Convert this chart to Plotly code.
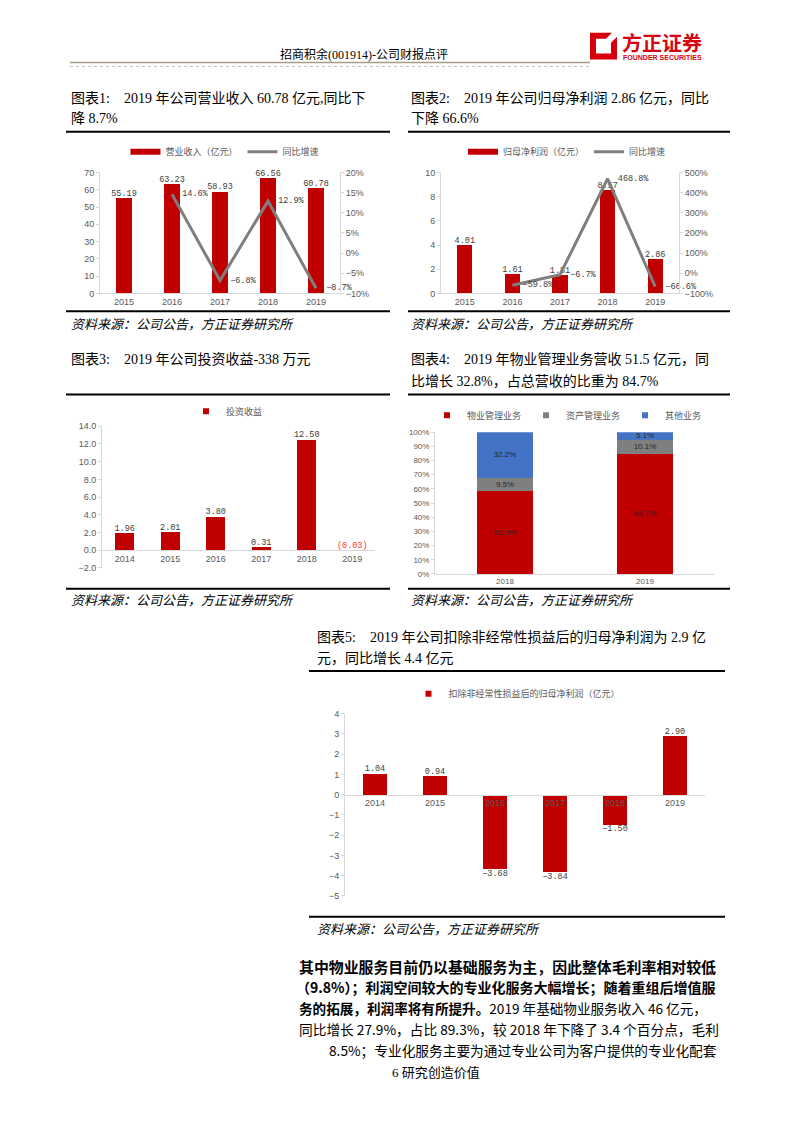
import plotly.graph_objects as go

W, H = 793, 1122
def X(p): return p / W
def Y(p): return 1 - p / H

# ---------------- data ----------------
years_rev = ['2015', '2016', '2017', '2018', '2019']
revenue = [55.19, 63.23, 58.93, 66.56, 60.78]
rev_growth_years = ['2016', '2017', '2018', '2019']
rev_growth = [14.6, -6.8, 12.9, -8.7]

years_np = ['2015', '2016', '2017', '2018', '2019']
net_profit = [4.01, 1.61, 1.51, 8.57, 2.86]
np_growth_years = ['2016', '2017', '2018', '2019']
np_growth = [-59.8, -6.7, 468.8, -66.6]

years_inv = ['2014', '2015', '2016', '2017', '2018', '2019']
invest_income = [1.96, 2.01, 3.80, 0.31, 12.50, -0.03]

years_seg = ['2018', '2019']
seg_names = ['物业管理业务', '资产管理业务', '其他业务']
seg_property = [58.3, 84.7]
seg_asset = [9.5, 10.1]
seg_other = [32.2, 5.1]

years_ded = ['2014', '2015', '2016', '2017', '2018', '2019']
deducted_profit = [1.04, 0.94, -3.68, -3.84, -1.50, 2.90]

# ---------------- styles ----------------
RED = '#C00000'
GRAY = '#7F7F7F'
BLUE = '#4472C4'
AXC = '#D9D9D9'
TICKF = dict(family='Liberation Sans, Arial, sans-serif', size=9, color='#595959')
LABF = dict(family='Liberation Mono, DejaVu Sans Mono, monospace', size=8.5, color='#404040')
LEGF = dict(family='Noto Sans CJK SC', size=9, color='#595959')
SERIF = 'Liberation Serif, Noto Sans CJK SC'
NB = '\u00a0'


def pct(v):
    return f"{v:.1f}%".replace('-', '\u2212')


def num(v):
    return f"{v:.2f}".replace('-', '\u2212')


def legend_rect(name, color, legend, xa='x', ya='y'):
    # legend key drawn as a thick short bar, like the source chart
    return go.Scatter(x=[None], y=[None], mode='lines', line=dict(color=color, width=6),
                      name=name, legend=legend, xaxis=xa, yaxis=ya, hoverinfo='skip')


def legend_square(name, color, legend, xa, ya):
    return go.Scatter(x=[None], y=[None], mode='markers',
                      marker=dict(symbol='square', size=6, color=color),
                      name=name, legend=legend, xaxis=xa, yaxis=ya, hoverinfo='skip')


traces = []
# chart 1
traces.append(go.Bar(x=years_rev, y=revenue, marker=dict(color=RED, line=dict(width=0)), width=0.32,
                     showlegend=False, xaxis='x', yaxis='y', hoverinfo='skip'))
traces.append(go.Scatter(x=years_rev, y=revenue, mode='text', text=[num(v) for v in revenue],
                         textposition='top center', textfont=LABF, showlegend=False,
                         xaxis='x', yaxis='y', cliponaxis=False, hoverinfo='skip'))
traces.append(legend_rect('营业收入（亿元）', RED, 'legend', 'x', 'y'))
traces.append(go.Scatter(x=rev_growth_years, y=[g / 100 for g in rev_growth], mode='lines',
                         line=dict(color=GRAY, width=3), name='同比增速', legend='legend',
                         xaxis='x', yaxis='y2', hoverinfo='skip'))
traces.append(go.Scatter(x=rev_growth_years, y=[g / 100 for g in rev_growth], mode='text',
                         text=[NB * 2 + pct(g) for g in rev_growth], textposition='middle right',
                         textfont=LABF, showlegend=False, xaxis='x', yaxis='y2',
                         cliponaxis=False, hoverinfo='skip'))
# chart 2
traces.append(go.Bar(x=years_np, y=net_profit, marker=dict(color=RED, line=dict(width=0)), width=0.32,
                     showlegend=False, xaxis='x2', yaxis='y3', hoverinfo='skip'))
traces.append(go.Scatter(x=years_np, y=net_profit, mode='text', text=[num(v) for v in net_profit],
                         textposition='top center', textfont=LABF, showlegend=False,
                         xaxis='x2', yaxis='y3', cliponaxis=False, hoverinfo='skip'))
traces.append(legend_rect('归母净利润（亿元）', RED, 'legend2', 'x2', 'y3'))
traces.append(go.Scatter(x=np_growth_years, y=[g / 100 for g in np_growth], mode='lines',
                         line=dict(color=GRAY, width=3), name='同比增速', legend='legend2',
                         xaxis='x2', yaxis='y4', hoverinfo='skip'))
traces.append(go.Scatter(x=np_growth_years, y=[g / 100 for g in np_growth], mode='text',
                         text=[NB * 2 + pct(g) for g in np_growth],
                         textposition='middle right',
                         textfont=LABF, showlegend=False, xaxis='x2', yaxis='y4',
                         cliponaxis=False, hoverinfo='skip'))
# chart 3
traces.append(go.Bar(x=years_inv, y=invest_income, marker=dict(color=RED, line=dict(width=0)), width=0.41,
                     showlegend=False, xaxis='x3', yaxis='y5', hoverinfo='skip'))
traces.append(legend_square('投资收益', RED, 'legend3', 'x3', 'y5'))
traces.append(go.Scatter(x=years_inv, y=[max(v, 0) for v in invest_income], mode='text',
                         text=[f"({abs(v):.2f})" if v < 0 else f"{v:.2f}" for v in invest_income],
                         textposition='top center',
                         textfont=dict(family=LABF['family'], size=LABF['size'],
                                       color=['#FF3333' if v < 0 else '#404040' for v in invest_income]),
                         showlegend=False, xaxis='x3', yaxis='y5', cliponaxis=False, hoverinfo='skip'))
# chart 4
base = [0.0] * len(years_seg)
for name, vals, col in zip(seg_names, [seg_property, seg_asset, seg_other], [RED, GRAY, BLUE]):
    traces.append(go.Bar(x=years_seg, y=vals, marker=dict(color=col, line=dict(width=0)), width=0.4,
                         showlegend=False, xaxis='x4', yaxis='y6', hoverinfo='skip'))
    traces.append(legend_square(name, col, 'legend4', 'x4', 'y6'))
    mids = [b + v / 2 for b, v in zip(base, vals)]
    traces.append(go.Scatter(x=years_seg, y=mids, mode='text', text=[f"{v:.1f}%" for v in vals],
                             textposition='middle center',
                             textfont=dict(family='Liberation Sans, Arial', size=8, color='#262626'),
                             showlegend=False, xaxis='x4', yaxis='y6', cliponaxis=False,
                             hoverinfo='skip'))
    base = [b + v for b, v in zip(base, vals)]
# chart 5
traces.append(go.Bar(x=years_ded, y=deducted_profit, marker=dict(color=RED, line=dict(width=0)), width=0.4,
                     showlegend=False, xaxis='x5', yaxis='y7', hoverinfo='skip'))
traces.append(legend_square('扣除非经常性损益后的归母净利润（亿元）', RED, 'legend5', 'x5', 'y7'))
traces.append(go.Scatter(x=years_ded, y=deducted_profit, mode='text',
                         text=[num(v) for v in deducted_profit],
                         textposition=['top center' if v >= 0 else 'bottom center' for v in deducted_profit],
                         textfont=LABF, showlegend=False, xaxis='x5', yaxis='y7',
                         cliponaxis=False, hoverinfo='skip'))

fig = go.Figure(data=traces)

# ---------------- axes ----------------
def xax(d0, d1, anchor, cats, **kw):
    a = dict(domain=[X(d0), X(d1)], anchor=anchor, type='category', categoryorder='array',
             categoryarray=cats, showline=True, linecolor=AXC, linewidth=1, ticks='',
             tickfont=TICKF, showgrid=False, zeroline=False, fixedrange=True)
    a.update(kw)
    return a


def yax(top, bottom, anchor, rng, dtick, **kw):
    a = dict(domain=[Y(bottom), Y(top)], anchor=anchor, range=rng, dtick=dtick, showline=True,
             linecolor=AXC, linewidth=1, ticks='outside', ticklen=3, tickcolor=AXC,
             tickfont=TICKF, showgrid=False, zeroline=False, fixedrange=True)
    a.update(kw)
    return a


dom3 = [Y(568), Y(425)]
zero3 = dom3[0] + (0 - (-2)) / (14 - (-2)) * (dom3[1] - dom3[0])
dom5 = [Y(899), Y(715)]
zero5 = dom5[0] + (0 - (-5)) / (4 - (-5)) * (dom5[1] - dom5[0])

fig.update_layout(
    xaxis=xax(100, 340, 'y', years_rev),
    yaxis=yax(169, 291, 'x', [0, 70], 10),
    yaxis2=dict(overlaying='y', side='right', anchor='x', range=[-0.10, 0.20], dtick=0.05,
                tickformat='.0%', showline=True, linecolor=AXC, ticks='outside', ticklen=3,
                tickcolor=AXC, tickfont=TICKF, showgrid=False, zeroline=False, fixedrange=True),
    xaxis2=xax(441, 679, 'y3', years_np),
    yaxis3=yax(169, 291, 'x2', [0, 10], 2),
    yaxis4=dict(overlaying='y3', side='right', anchor='x2', range=[-1.0, 5.0], dtick=1.0,
                tickformat='.0%', showline=True, linecolor=AXC, ticks='outside', ticklen=3,
                tickcolor=AXC, tickfont=TICKF, showgrid=False, zeroline=False, fixedrange=True),
    xaxis3=xax(102, 375, 'free', years_inv, position=zero3),
    yaxis5=yax(425, 568, 'x3', [-2, 14], 2, tickformat='.1f'),
    xaxis4=xax(435, 715, 'y6', years_seg, tickfont=dict(TICKF, size=8)),
    yaxis6=yax(431, 574, 'x4', [0, 100], 10, ticksuffix='%', tickfont=dict(TICKF, size=8)),
    xaxis5=xax(345, 705, 'free', years_ded, position=zero5),
    yaxis7=yax(715, 899, 'x5', [-5, 4], 1),
    barmode='stack',
)

legbase = dict(orientation='h', xanchor='center', yanchor='middle', font=LEGF,
               bgcolor='rgba(0,0,0,0)', traceorder='normal', itemwidth=30)
fig.update_layout(
    legend=dict(legbase, x=X(225), y=Y(148)),
    legend2=dict(legbase, x=X(567), y=Y(148)),
    legend3=dict(legbase, x=X(227), y=Y(410)),
    legend4=dict(legbase, x=X(567), y=Y(414)),
    legend5=dict(legbase, x=X(517), y=Y(695)),
)

# ---------------- page text ----------------
ann = []
def text(x, y, s, size=13, family=SERIF, color='#000000', xanchor='left', **kw):
    ann.append(dict(x=X(x), y=Y(y), xref='paper', yref='paper', text=s, showarrow=False,
                    xanchor=xanchor, yanchor='middle', borderpad=0,
                    font=dict(family=family, size=size, color=color, **kw)))

text(279, 50, '招商积余(001914)-公司财报点评', size=12)
text(621, 38, '<b>方正证券</b>', size=20, family='Noto Sans CJK SC', color='#D7000F')
text(622, 53, '<b>FOUNDER SECURITIES</b>', size=7, family='Liberation Sans, Arial', color='#D7000F')

text(70, 94, f'图表1:{NB*4}2019 年公司营业收入 60.78 亿元,同比下', size=14)
text(70, 115, '降 8.7%', size=14)
text(410, 94, f'图表2:{NB*4}2019 年公司归母净利润 2.86 亿元，同比', size=14)
text(410, 115, '下降 66.6%', size=14)
text(70, 358, f'图表3:{NB*4}2019 年公司投资收益-338 万元', size=14)
text(410, 358, f'图表4:{NB*4}2019 年物业管理业务营收 51.5 亿元，同', size=14)
text(410, 380, '比增长 32.8%，占总营收的比重为 84.7%', size=14)
text(316, 638, f'图表5:{NB*4}2019 年公司扣除非经常性损益后的归母净利润为 2.9 亿', size=14)
text(316, 659, '元，同比增长 4.4 亿元', size=14)

SRC = '资料来源：公司公告，方正证券研究所'
for (sx, sy) in [(70, 321), (410, 321), (70, 600), (410, 600), (316, 932)]:
    text(sx, sy, SRC, size=13, family='Noto Sans CJK SC', style='italic')

BODY = 'Noto Sans CJK SC'
text(298, 970, '<b>其中物业服务目前仍以基础服务为主，因此整体毛利率相对较低</b>', size=14.9, family=BODY)
text(295, 991, '<b>（9.8%）；利润空间较大的专业化服务大幅增长；随着重组后增值服</b>', size=14, family=BODY)
text(298, 1012, '<b>务的拓展，利润率将有所提升。</b>2019 年基础物业服务收入 46 亿元，', size=13.6, family=BODY)
text(298, 1033, '同比增长 27.9%，占比 89.3%，较 2018 年下降了 3.4 个百分点，毛利', size=13.7, family=BODY)
text(328, 1054, '8.5%；专业化服务主要为通过专业公司为客户提供的专业化配套', size=13.7, family=BODY)
text(391, 1077, '6 研究创造价值', size=13)

# ---------------- page rules ----------------
shapes = []
def hline(x0, x1, y, color='#000000', width=2, dash=None):
    shapes.append(dict(type='line', xref='paper', yref='paper', x0=X(x0), x1=X(x1), y0=Y(y), y1=Y(y),
                       line=dict(color=color, width=width, dash=dash)))

hline(70, 590, 58, color='#A89C86', width=1.5)
hline(70, 590, 62, color='#C9BFAE', width=1, dash='dot')
for (a, b, y) in [(66, 390, 128), (408, 730, 128), (66, 390, 309), (408, 730, 309),
                  (66, 390, 393), (408, 730, 393), (66, 390, 589), (408, 730, 589),
                  (309, 725, 672), (309, 725, 920)]:
    hline(a, b, y)

# logo mark
def P(x, y): return f"{X(x)},{Y(y)}"
logo = (f"M{P(590,28)} L{P(612,28)} L{P(606,34)} L{P(596,34)} L{P(596,49)} L{P(611,49)} "
        f"L{P(611,38)} L{P(617,32)} L{P(617,55)} L{P(590,55)} Z")
shapes.append(dict(type='path', xref='paper', yref='paper', path=logo,
                   fillcolor='#D7000F', line=dict(width=0)))

fig.update_layout(
    width=W, height=H, autosize=False,
    margin=dict(l=0, r=0, t=0, b=0),
    paper_bgcolor='white', plot_bgcolor='white',
    annotations=ann, shapes=shapes,
    showlegend=True,
)

fig.write_html("out.html", config={'displayModeBar': False},
               post_script="document.body.style.margin='0';document.body.style.overflow='hidden';")
